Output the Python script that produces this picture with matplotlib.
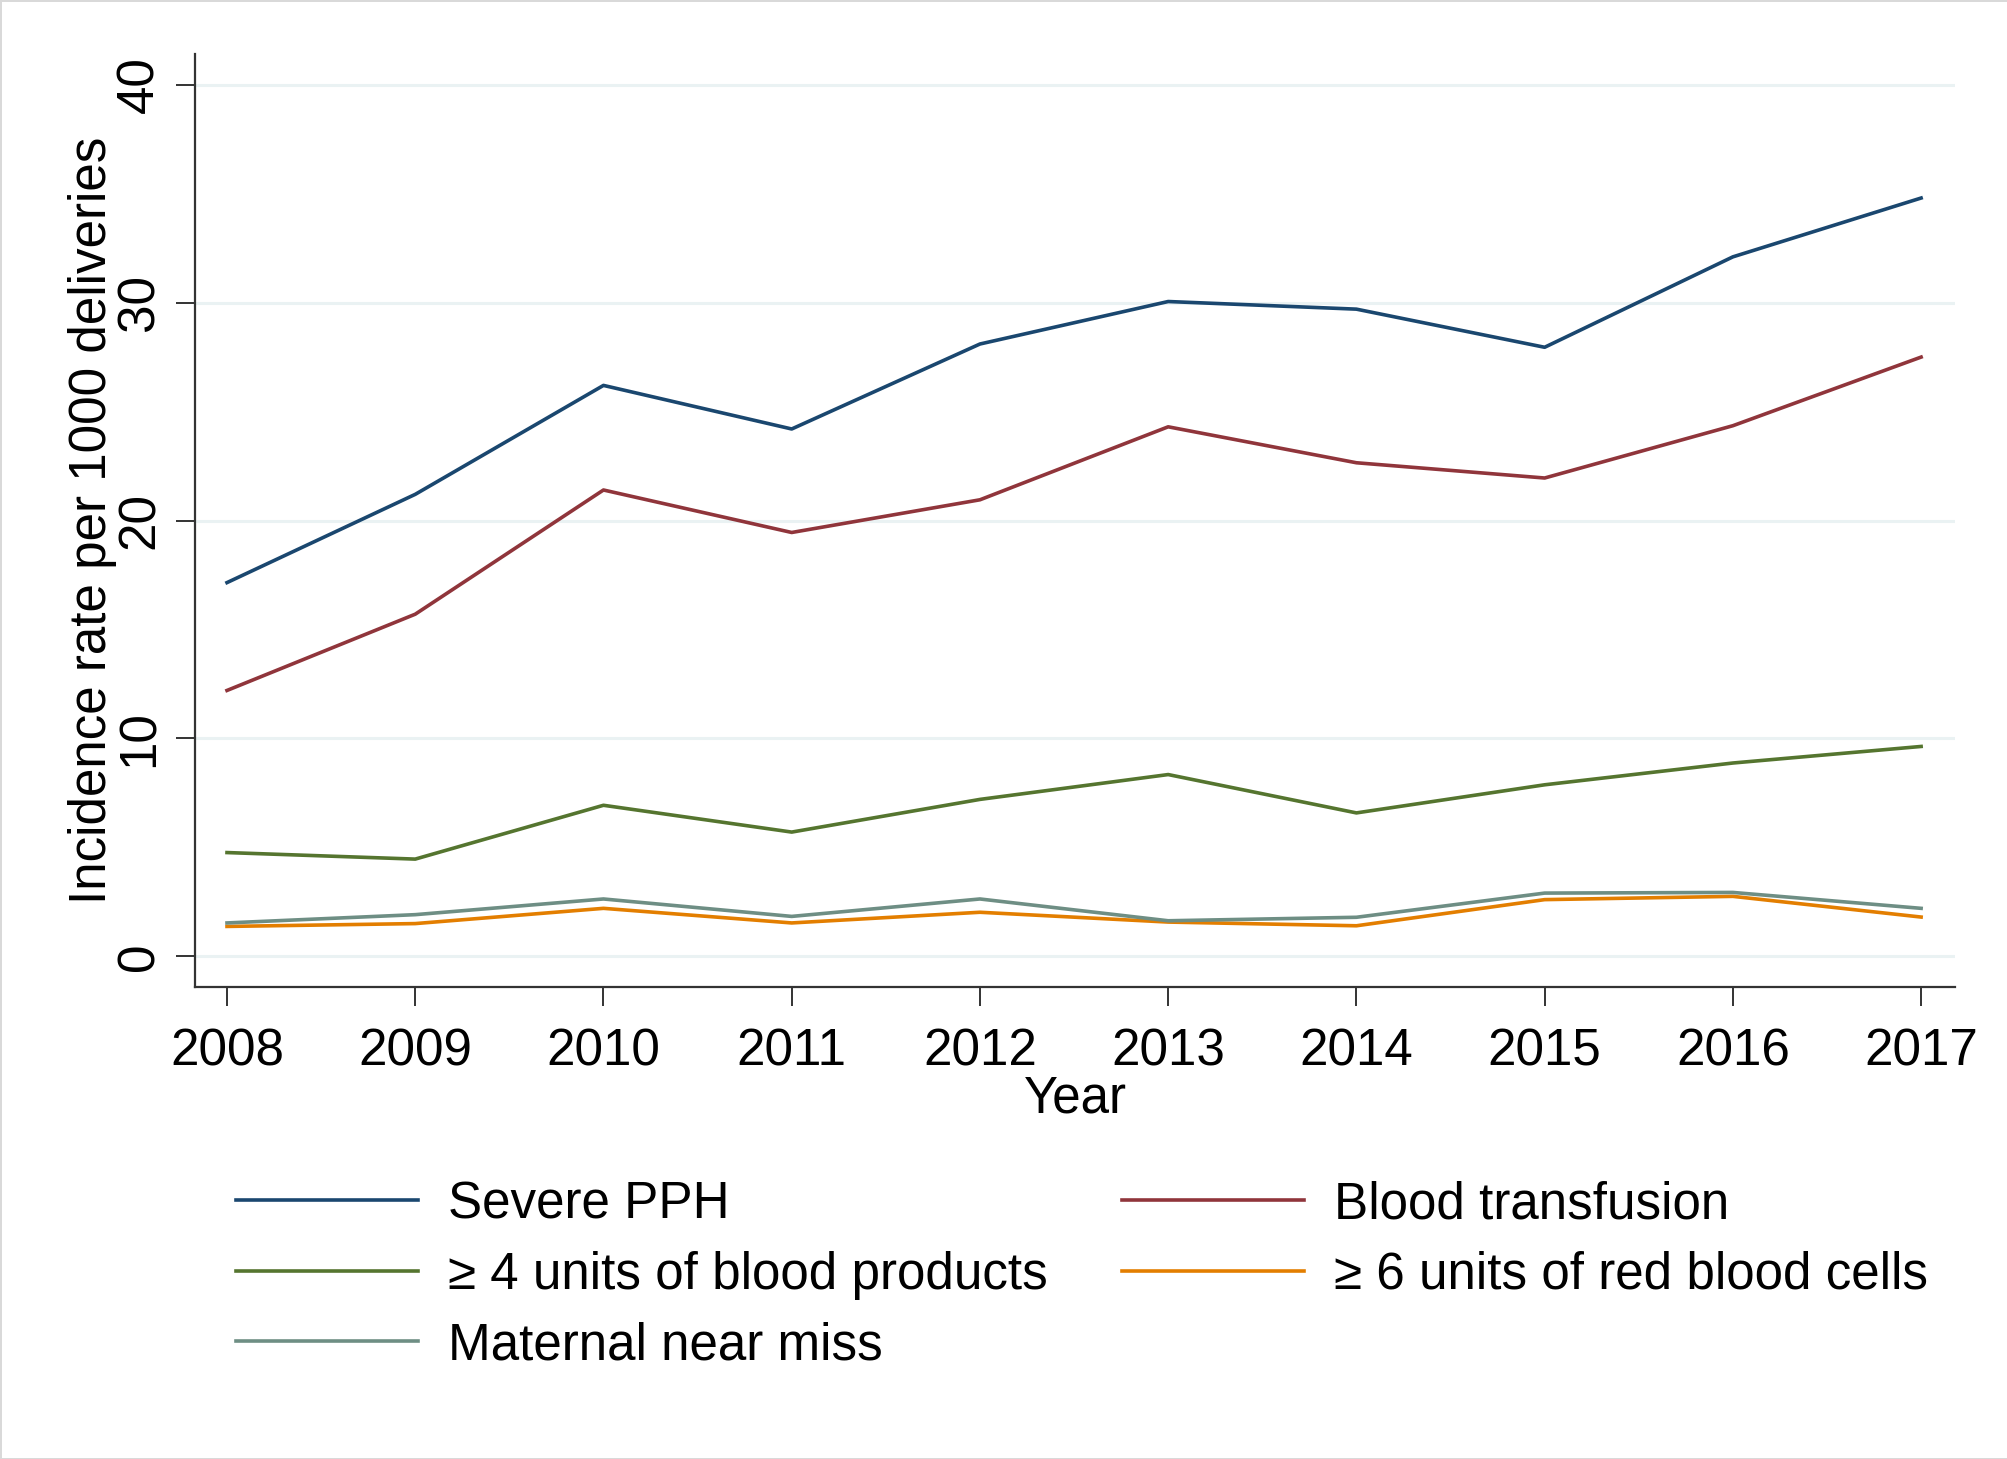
import matplotlib
matplotlib.use("Agg")
import matplotlib.pyplot as plt

years = [2008, 2009, 2010, 2011, 2012, 2013, 2014, 2015, 2016, 2017]
severe_pph = [17.15, 21.2, 26.2, 24.2, 28.1, 30.05, 29.7, 27.95, 32.1, 34.8]
blood_transfusion = [12.2, 15.7, 21.4, 19.45, 20.95, 24.3, 22.65, 21.95, 24.35, 27.5]
units4_blood_products = [4.76, 4.46, 6.93, 5.7, 7.2, 8.34, 6.58, 7.87, 8.87, 9.63]
units6_rbc = [1.37, 1.5, 2.2, 1.53, 2.02, 1.57, 1.4, 2.6, 2.75, 1.8]
maternal_near_miss = [1.53, 1.91, 2.63, 1.83, 2.63, 1.63, 1.79, 2.9, 2.93, 2.2]
yticks = [0, 10, 20, 30, 40]

labels = ["Severe PPH", "Blood transfusion", "\u2265 4 units of blood products",
          "\u2265 6 units of red blood cells", "Maternal near miss"]
colors = ["#1a476f", "#90353b", "#55752f", "#e37e00", "#6e8e84"]
series = [severe_pph, blood_transfusion, units4_blood_products, units6_rbc, maternal_near_miss]

plt.rcParams['font.family'] = ['Liberation Sans', 'DejaVu Sans']
FS = 36.8

fig = plt.figure(figsize=(20.08, 14.59), dpi=100)
fig.patch.set_facecolor("white")
fig.patch.set_edgecolor("#d9d9d9")
fig.patch.set_linewidth(2)
ax = fig.add_axes([195/2008, 1 - 987/1459, (1955-195)/2008, (987-54)/1459])

handles = []
for s, c, lab in zip(series, colors, labels):
    h, = ax.plot(years, s, color=c, lw=2.6, label=lab, zorder=3)
    handles.append(h)

ax.set_xlim(2007.83, 2017.18)
ax.set_ylim(-1.41, 41.41)
ax.set_yticks(yticks)
ax.set_xticks(years)
ax.grid(axis='y', color="#eaf2f3", lw=2.2, zorder=0)
ax.set_axisbelow(True)
for sp in ['top', 'right']:
    ax.spines[sp].set_visible(False)
for sp in ['left', 'bottom']:
    ax.spines[sp].set_color("#333333")
    ax.spines[sp].set_linewidth(1.6)
ax.tick_params(axis='both', length=14, width=1.4, color="#333333", labelsize=FS, labelcolor="black")
ax.tick_params(axis='x', pad=15)
ax.tick_params(axis='y', pad=8)
for t in ax.get_yticklabels():
    t.set_rotation(90)
    t.set_va('center')
ax.set_xlabel("Year", fontsize=FS, labelpad=-1)
ax.set_ylabel("Incidence rate per 1000 deliveries", fontsize=FS, labelpad=-1)

order = [0, 2, 4, 1, 3]
fig.legend([handles[i] for i in order], [labels[i] for i in order],
           loc='upper left', bbox_to_anchor=(226/2008, 1 - 1170/1459), ncol=2,
           frameon=False, fontsize=FS, handlelength=3.55, handletextpad=0.6,
           columnspacing=1.45, labelspacing=0.42, borderaxespad=0, borderpad=0.2)

fig.savefig("out.png", dpi=100)
